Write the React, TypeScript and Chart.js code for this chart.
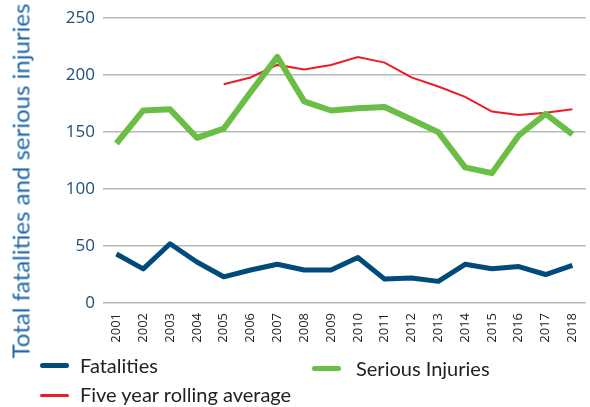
import React, { useEffect, useRef } from "react";
import { Chart, registerables } from "chart.js";

Chart.register(...registerables);

const years = ["2001","2002","2003","2004","2005","2006","2007","2008","2009","2010","2011","2012","2013","2014","2015","2016","2017","2018"];
const fatalities = [43,30,52,36,23,29,34,29,29,40,21,22,19,34,30,32,25,33];
const seriousInjuries = [140,169,170,145,153,185,216,177,169,171,172,161,150,119,114,147,166,148];
const rollingAverage = [null,null,null,null,192,198,209,205,209,216,211,198,190,181,168,165,167,170];
const yTicks = [0, 50, 100, 150, 200, 250];

const BLUE = "#004a7c";
const GREEN = "#6abd45";
const RED = "#ed1c24";
const FONT = "'Open Sans', sans-serif";
const LFONT = "Lato, sans-serif";

export default function App() {
  const ref = useRef<HTMLCanvasElement | null>(null);
  useEffect(() => {
    document.body.style.margin = "0";
    const chart = new Chart(ref.current as HTMLCanvasElement, {
      type: "line",
      data: {
        labels: years,
        datasets: [
          { label: "Fatalities", data: fatalities, borderColor: BLUE, backgroundColor: BLUE, borderWidth: 5, pointRadius: 0, tension: 0, borderJoinStyle: "round" },
          { label: "Serious Injuries", data: seriousInjuries, borderColor: GREEN, backgroundColor: GREEN, borderWidth: 6, pointRadius: 0, tension: 0, borderJoinStyle: "round" },
          { label: "Five year rolling average", data: rollingAverage, borderColor: RED, backgroundColor: RED, borderWidth: 2, pointRadius: 0, tension: 0, spanGaps: false },
        ],
      },
      options: {
        animation: false,
        responsive: false,
        layout: { padding: { top: 16, bottom: 62, left: 0, right: 0 } },
        plugins: { legend: { display: false }, tooltip: { enabled: false } },
        scales: {
          x: {
            offset: true,
            grid: { display: false },
            border: { display: false },
            ticks: { maxRotation: 90, minRotation: 90, autoSkip: false, color: "#222", font: { family: FONT, size: 13 }, padding: 2 },
            afterFit: (s: any) => { s.height = 42; },
          },
          y: {
            min: 0,
            max: 250,
            afterBuildTicks: (s: any) => { s.ticks = yTicks.map((v) => ({ value: v })); },
            grid: { color: "#b8b8b8", lineWidth: 1.5, drawTicks: false },
            border: { display: false },
            ticks: { color: "#1f4e79", font: { family: FONT, size: 17 }, padding: 8 },
            afterFit: (s: any) => { s.width = 103; },
          },
        },
      },
    });
    return () => chart.destroy();
  }, []);

  const legendText: React.CSSProperties = { position: "absolute", fontFamily: LFONT, fontSize: 20, color: "#222", whiteSpace: "nowrap", lineHeight: "24px" };
  const swatch = (color: string, h: number): React.CSSProperties => ({ position: "absolute", width: 29, height: h, background: color, borderRadius: h / 2 });

  return (
    <div style={{ position: "absolute", left: 0, top: 0, width: 590, height: 407, background: "#fff", overflow: "hidden" }}>
      <canvas ref={ref} width={590} height={407} style={{ position: "absolute", left: 0, top: 0 }} />
      <div style={{ position: "absolute", left: 20, top: 181, transform: "translate(-50%, -50%) rotate(-90deg)", whiteSpace: "nowrap", fontFamily: LFONT, fontSize: 24, color: "#2068a8" }}>
        Total fatalities and serious injuries
      </div>
      <div style={{ ...swatch(BLUE, 5), left: 40, top: 363 }} />
      <div style={{ ...legendText, left: 80, top: 353 }}>Fatalities</div>
      <div style={{ ...swatch(GREEN, 5), left: 312, top: 366 }} />
      <div style={{ ...legendText, left: 356, top: 356 }}>Serious Injuries</div>
      <div style={{ ...swatch(RED, 3), left: 40, top: 394 }} />
      <div style={{ ...legendText, left: 80, top: 382 }}>Five year rolling average</div>
    </div>
  );
}
